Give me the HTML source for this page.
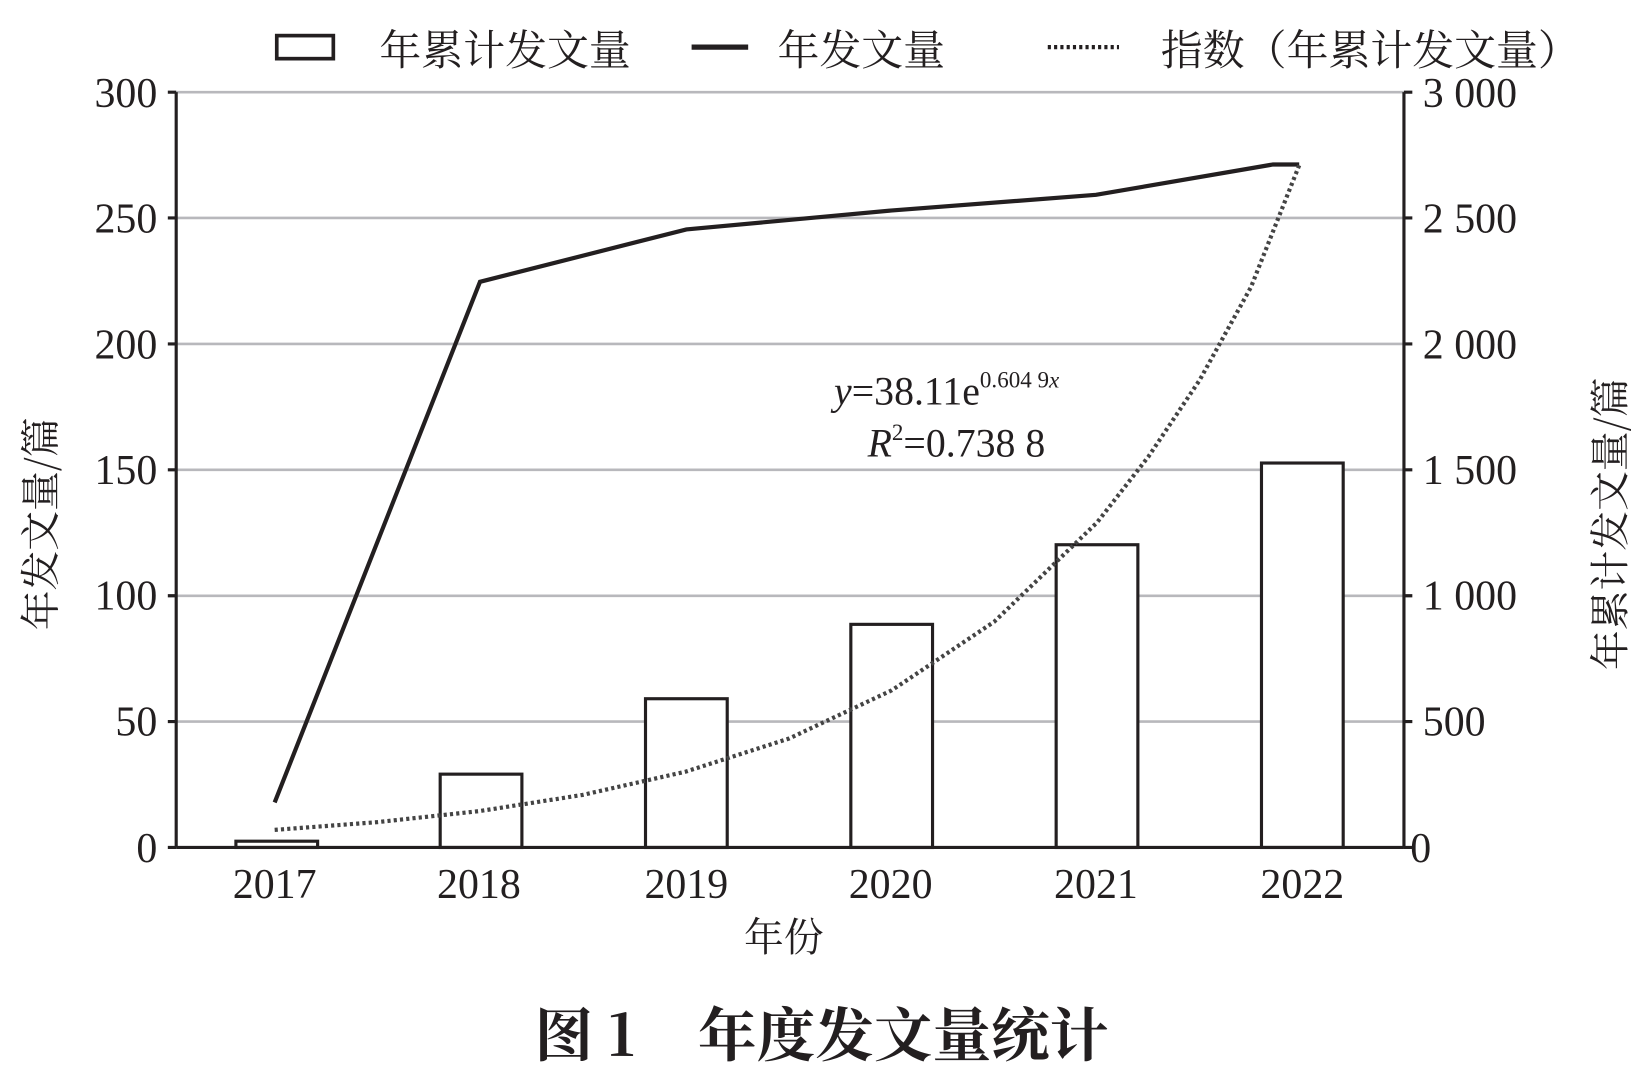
<!DOCTYPE html>
<html><head><meta charset="utf-8"><style>
html,body{margin:0;padding:0;background:#fff;}
svg text{font-family:"Liberation Serif","Noto Serif CJK SC",serif;fill:#231f20;}
.cj{font-family:"Noto Serif CJK SC","Liberation Serif",serif;}
</style></head><body>
<svg width="1643" height="1079" viewBox="0 0 1568 1030" xmlns="http://www.w3.org/2000/svg">
<g stroke="#b8b8bc" stroke-width="2.5">
<line x1="168" y1="88" x2="1340" y2="88"/>
<line x1="168" y1="208" x2="1340" y2="208"/>
<line x1="168" y1="328.3" x2="1340" y2="328.3"/>
<line x1="168" y1="448.5" x2="1340" y2="448.5"/>
<line x1="168" y1="568.7" x2="1340" y2="568.7"/>
<line x1="168" y1="688.8" x2="1340" y2="688.8"/>
</g>
<g fill="#fff" stroke="#231f20" stroke-width="3">
<rect x="225" y="803" width="78" height="6"/>
<rect x="420" y="739" width="78" height="70"/>
<rect x="616" y="667" width="78" height="142"/>
<rect x="812" y="596" width="78" height="213"/>
<rect x="1008" y="520" width="78" height="289"/>
<rect x="1204" y="442" width="78" height="367"/>
</g>
<g stroke="#231f20" stroke-width="3" fill="none">
<line x1="168" y1="88" x2="168" y2="809"/>
<line x1="1340" y1="88" x2="1340" y2="809"/>
<line x1="168" y1="809" x2="1340" y2="809"/>
<path d="M160 88H168M160 208H168M160 328.3H168M160 448.5H168M160 568.7H168M160 688.8H168M160 809H168M1340 88H1348M1340 208H1348M1340 328.3H1348M1340 448.5H1348M1340 568.7H1348M1340 688.8H1348M1340 809H1348"/>
<polyline stroke-width="4" points="262,766 458,269 655,219 850,201 1046,186 1215,157 1240,157"/>
<polyline stroke="#444" stroke-width="4" stroke-dasharray="3,3" points="262,792.2 360,784.8 458,774.2 556,758.8 654,736.7 753,705 851,659 949,593.4 1047,498.8 1096,436 1145,362.8 1194,274 1240,157.8"/>
<rect x="264" y="34" width="54" height="22" stroke-width="3.5"/>
<line x1="660" y1="45" x2="714" y2="45" stroke-width="5"/>
<line x1="1000" y1="45" x2="1068" y2="45" stroke-width="4" stroke-dasharray="3,3"/>
</g>
<g font-size="40" class="cj">
<text x="362" y="62">年累计发文量</text>
<text x="742" y="62">年发文量</text>
<text x="1108" y="62">指数（年累计发文量）</text>
</g>
<g font-size="40" text-anchor="end">
<text x="150" y="102">300</text><text x="150" y="222">250</text><text x="150" y="342">200</text>
<text x="150" y="462">150</text><text x="150" y="582">100</text><text x="150" y="702">50</text><text x="150" y="823">0</text>
</g>
<g font-size="40">
<text x="1358" y="102">3 000</text><text x="1358" y="222">2 500</text><text x="1358" y="342">2 000</text>
<text x="1358" y="462">1 500</text><text x="1358" y="582">1 000</text><text x="1358" y="702">500</text><text x="1346" y="823">0</text>
</g>
<g font-size="40" text-anchor="middle">
<text x="262" y="857">2017</text><text x="457" y="857">2018</text><text x="655" y="857">2019</text>
<text x="850" y="857">2020</text><text x="1046" y="857">2021</text><text x="1243" y="857">2022</text>
</g>
<text x="748" y="908" font-size="38" text-anchor="middle" class="cj">年份</text>
<text transform="translate(52,500) rotate(-90)" font-size="38" text-anchor="middle" class="cj">年发文量/篇</text>
<text transform="translate(1550,500) rotate(-90)" font-size="38" text-anchor="middle" class="cj">年累计发文量/篇</text>
<text x="796" y="386" font-size="38"><tspan font-style="italic">y</tspan>=38.11e<tspan font-size="22" dy="-16">0.604 9<tspan font-style="italic">x</tspan></tspan></text>
<text x="828" y="436" font-size="38"><tspan font-style="italic">R</tspan><tspan font-size="22" dy="-16">2</tspan><tspan dy="16">=0.738 8</tspan></text>
<text x="510" y="1008" font-size="56" font-weight="bold" class="cj">图 1</text>
<text x="666" y="1008" font-size="56" font-weight="bold" class="cj">年度发文量统计</text>
</svg>
</body></html>
